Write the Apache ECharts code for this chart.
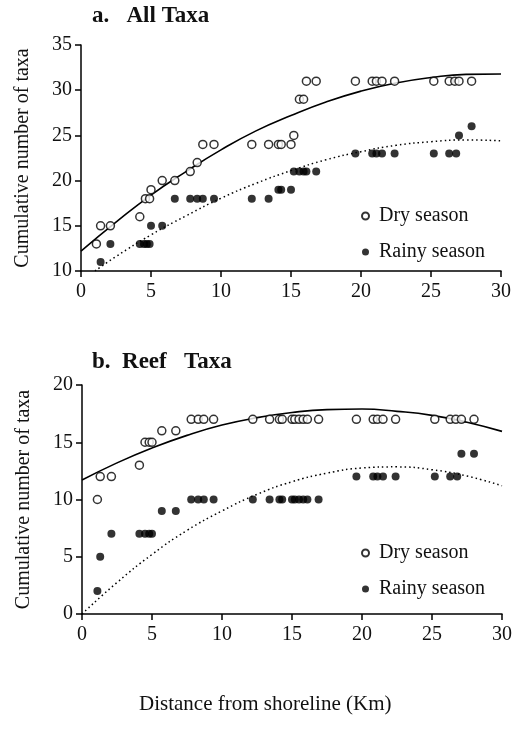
<!DOCTYPE html>
<html><head><meta charset="utf-8">
<script src="https://cdn.jsdelivr.net/npm/echarts@6/dist/echarts.min.js"></script>
<style>html,body{margin:0;padding:0;background:#fff}#c{width:515px;height:732px}</style>
</head><body><div id="c"></div>
<script>
// ---- Panel a: All Taxa ----
const dryA_x = [1.1,1.4,2.1,4.2,4.6,4.9,5.0,5.8,6.7,7.8,8.3,8.7,9.5,12.2,13.4,14.1,14.3,15.0,15.2,15.6,15.9,16.1,16.8,19.6,20.8,21.1,21.5,22.4,25.2,26.3,26.7,27.0,27.9];
const dryA_y = [13,15,15,16,18,18,19,20,20,21,22,24,24,24,24,24,24,24,25,29,29,31,31,31,31,31,31,31,31,31,31,31,31];
const rainyA_x = [1.4,2.1,4.2,4.5,4.7,4.9,5.0,5.8,6.7,7.8,8.3,8.7,9.5,12.2,13.4,14.1,14.3,15.0,15.2,15.6,15.9,16.1,16.8,19.6,20.8,21.1,21.5,22.4,25.2,26.3,26.8,27.0,27.9];
const rainyA_y = [11,13,13,13,13,13,15,15,18,18,18,18,18,18,18,19,19,19,21,21,21,21,21,23,23,23,23,23,23,23,23,25,26];
// fitted curves
const fitDryA_x = [0,2.5,5,7.5,10,12.5,15,17.5,20,22.5,25,27.5,30];
const fitDryA_y = [12.2,15.4,18.4,21.0,23.4,25.5,27.2,28.7,29.9,30.8,31.4,31.75,31.8];
const fitRainyA_x = [1,2.5,5,7.5,10,12.5,15,17.5,20,22.5,25,27.5,30];
const fitRainyA_y = [10.0,11.6,14.0,16.1,18.05,19.7,21.1,22.3,23.2,23.9,24.3,24.5,24.4];

// ---- Panel b: Reef Taxa ----
const dryB_x = [1.1,1.3,2.1,4.1,4.5,4.8,5.0,5.7,6.7,7.8,8.3,8.7,9.4,12.2,13.4,14.1,14.3,15.0,15.2,15.5,15.8,16.1,16.9,19.6,20.8,21.1,21.5,22.4,25.2,26.3,26.7,27.1,28.0];
const dryB_y = [10,12,12,13,15,15,15,16,16,17,17,17,17,17,17,17,17,17,17,17,17,17,17,17,17,17,17,17,17,17,17,17,17];
const rainyB_x = [1.1,1.3,2.1,4.1,4.5,4.8,5.0,5.7,6.7,7.8,8.3,8.7,9.4,12.2,13.4,14.1,14.3,15.0,15.2,15.5,15.8,16.1,16.9,19.6,20.8,21.1,21.5,22.4,25.2,26.3,26.8,27.1,28.0];
const rainyB_y = [2,5,7,7,7,7,7,9,9,10,10,10,10,10,10,10,10,10,10,10,10,10,10,12,12,12,12,12,12,12,12,14,14];
const fitDryB_x = [0,2.5,5,7.5,10,12.5,15,17.5,20,22.5,25,27.5,30];
const fitDryB_y = [11.7,13.2,14.5,15.6,16.5,17.15,17.6,17.85,17.9,17.7,17.35,16.75,15.95];
const fitRainyB_x = [0,2.5,5,7.5,10,12.5,15,17.5,20,22.5,25,27.5,30];
const fitRainyB_y = [0,2.75,5.2,7.3,9.0,10.45,11.55,12.3,12.75,12.85,12.6,12.05,11.2];

const xTicks = [0,5,10,15,20,25,30];

const FONT = 'Liberation Serif';
const zip = (xs, ys) => xs.map((x, i) => [x, ys[i]]);

const chart = echarts.init(document.getElementById('c'), null, {renderer: 'canvas'});

function xAxis(gi) {
  return {
    type: 'value', gridIndex: gi, min: xTicks[0], max: xTicks[xTicks.length-1], interval: 5,
    axisLine: {show: true, lineStyle: {color: '#000', width: 1.5}},
    axisTick: {show: true, inside: false, length: 6, lineStyle: {color: '#000', width: 1.5}},
    axisLabel: {fontFamily: FONT, fontSize: 20, color: '#111', margin: 11},
    splitLine: {show: false}
  };
}
function yAxis(gi, min, max) {
  return {
    type: 'value', gridIndex: gi, min: min, max: max, interval: 5,
    name: 'Cumulative number of taxa', nameLocation: 'middle', nameGap: 48,
    nameTextStyle: {fontFamily: FONT, fontSize: 20, color: '#111'},
    axisLine: {show: true, lineStyle: {color: '#000', width: 1.5}},
    axisTick: {show: true, inside: false, length: 6, lineStyle: {color: '#000', width: 1.5}},
    axisLabel: {fontFamily: FONT, fontSize: 20, color: '#111', margin: 9},
    splitLine: {show: false}
  };
}
function dry(gi, xs, ys) {
  return {name: 'Dry season', type: 'scatter', xAxisIndex: gi, yAxisIndex: gi, data: zip(xs, ys),
    symbol: 'circle', symbolSize: 8,
    itemStyle: {color: '#fff', borderColor: '#000', borderWidth: 1.5}, z: 3};
}
function rainy(gi, xs, ys) {
  return {name: 'Rainy season', type: 'scatter', xAxisIndex: gi, yAxisIndex: gi, data: zip(xs, ys),
    symbol: 'circle', symbolSize: 8,
    itemStyle: {color: '#000', borderColor: '#000', borderWidth: 0}, z: 3};
}
function fit(gi, xs, ys, dotted, nm) {
  return {name: nm, type: 'line', xAxisIndex: gi, yAxisIndex: gi, data: zip(xs, ys),
    smooth: true, showSymbol: false, silent: true,
    lineStyle: dotted ? {color: '#000', width: 1.5, type: [1.5, 3]} : {color: '#000', width: 1.6},
    z: 2};
}
function legend(top) {
  return {
    data: ['Dry season', 'Rainy season'], orient: 'vertical', left: 356, top: top,
    itemWidth: 7, itemHeight: 7, itemGap: 16, icon: 'circle',
    textStyle: {fontFamily: FONT, fontSize: 20, color: '#111', padding: [0, 0, 0, 5]},
    selectedMode: false
  };
}

chart.setOption({
  animation: false,
  backgroundColor: '#fff',
  title: [
    {text: 'a.   All Taxa', left: 87, top: 0, textStyle: {fontFamily: FONT, fontSize: 23, fontWeight: 'bold', color: '#111'}},
    {text: 'b.  Reef   Taxa', left: 87, top: 346, textStyle: {fontFamily: FONT, fontSize: 23, fontWeight: 'bold', color: '#111'}},
    {text: 'Distance from shoreline (Km)', left: 134, top: 689, textStyle: {fontFamily: FONT, fontSize: 21, fontWeight: 'normal', color: '#111'}}
  ],
  grid: [
    {left: 81, right: 14, top: 45, bottom: 461},
    {left: 82, right: 13, top: 385, bottom: 118}
  ],
  xAxis: [xAxis(0), xAxis(1)],
  yAxis: [yAxis(0, 10, 35), yAxis(1, 0, 20)],
  legend: [legend(201), legend(538)],
  series: [
    fit(0, fitDryA_x, fitDryA_y, false, 'fitDryA'),
    fit(0, fitRainyA_x, fitRainyA_y, true, 'fitRainyA'),
    dry(0, dryA_x, dryA_y),
    rainy(0, rainyA_x, rainyA_y),
    fit(1, fitDryB_x, fitDryB_y, false, 'fitDryB'),
    fit(1, fitRainyB_x, fitRainyB_y, true, 'fitRainyB'),
    dry(1, dryB_x, dryB_y),
    rainy(1, rainyB_x, rainyB_y)
  ]
});
</script>
</body></html>
